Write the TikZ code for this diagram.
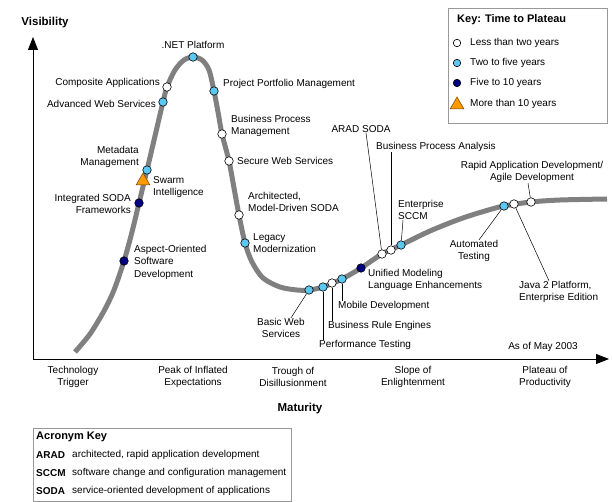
\documentclass[tikz,border=0pt]{standalone}
\usepackage{fontspec}
\setmainfont{Liberation Sans}
\usepackage{xcolor}
\usepackage{tikz}
\definecolor{skyb}{HTML}{5BC8F2}
\definecolor{navyb}{HTML}{000080}
\definecolor{ornge}{HTML}{FF9900}
\definecolor{hypeg}{HTML}{808080}
\tikzstyle{wh} = [circle, draw=black, line width=0.6pt, fill=white, minimum size=8.5pt, inner sep=0pt]
\tikzstyle{bl} = [wh, fill=skyb]
\tikzstyle{nv} = [wh, fill=navyb]
\tikzstyle{tri} = [regular polygon, regular polygon sides=3, draw=ornge!45!black, line width=0.5pt, fill=ornge, minimum size=16pt, inner sep=0pt]
\tikzstyle{ld} = [draw, line width=0.5pt, black, -]
\tikzstyle{ax} = [draw, line width=0.8pt, black, -{Triangle[length=13pt,width=10pt]}]
\tikzstyle{hd} = [font=\bfseries\fontsize{11}{13}\selectfont]
\tikzstyle{acr} = [font=\bfseries\fontsize{10}{12}\selectfont, anchor=west]
\tikzstyle{box} = [draw=black!40, line width=0.7pt, anchor=north west]
\usetikzlibrary{arrows.meta,shapes.geometric}

\begin{document}
\begin{tikzpicture}[x=1pt, y=-1pt, every node/.style={align=center, inner sep=0pt, font=\fontsize{10}{12.5}\selectfont}]
  \useasboundingbox (0,0) rectangle (612,502);

  % Axes
  \coordinate (o)    at (33,359);
  \coordinate (ytip) at (33,37);
  \coordinate (xtip) at (609,359);
  \draw[ax] (o) -- (ytip);
  \draw[ax] (o) -- (xtip);
  \node[hd, font=\bfseries\fontsize{11.5}{13}\selectfont] (vis) at (45,23) {Visibility};
  \node[hd, font=\bfseries\fontsize{11.5}{13}\selectfont] (mat) at (300,409) {Maturity};

  % Phases
  \node (tt) at (73,377)  {Technology\\Trigger};
  \node (pe) at (193,377) {Peak of Inflated\\Expectations};
  \node (td) at (293,377) {Trough of\\Disillusionment};
  \node (se) at (413,377) {Slope of\\Enlightenment};
  \node (pp) at (545,377) {Plateau of\\Productivity};
  \node (asof) at (543,347) {As of May 2003};

  % Curve
  \draw[hypeg, line width=5pt] plot[smooth, tension=0.5] coordinates {
    (75,352) (90,334) (104,311) (114,290) (124,261) (132,232) (139,203)
    (147,170) (155,136) (163,102) (167,87) (175,70) (184,60) (193,57)
    (202,60) (209,70) (214,91) (218,112) (222,134) (229,161) (234,188)
    (239,215) (245,243) (252,262) (263,278) (280,287) (297,290) (309,290)
    (323,287) (342,279) (361,268) (382,254) (401,245) (430,231) (460,219)
    (485,211) (504,206) (531,202) (560,200) (607,199)};

  % Markers
  \node[nv]  (asp)   at (124,261) {};
  \node[nv]  (intg)  at (139,203) {};
  \node[tri] (swarm) at (143,181) {};
  \node[bl]  (meta)  at (147,170) {};
  \node[bl]  (adv)   at (163,102) {};
  \node[wh]  (comp)  at (167,87)  {};
  \node[bl]  (net)   at (193,57)  {};
  \node[bl]  (proj)  at (214,91)  {};
  \node[wh]  (bpm)   at (222,134) {};
  \node[wh]  (sec)   at (229,161) {};
  \node[wh]  (arch)  at (239,215) {};
  \node[bl]  (leg)   at (245,243) {};
  \node[bl]  (basic) at (309,290) {};
  \node[bl]  (perf)  at (323,287) {};
  \node[wh]  (bre)   at (332,283) {};
  \node[bl]  (mob)   at (342,279) {};
  \node[nv]  (uml)   at (361,268) {};
  \node[wh]  (arad)  at (382,254) {};
  \node[wh]  (bpa)   at (391,250) {};
  \node[bl]  (esccm) at (401,245) {};
  \node[bl]  (auto)  at (504,206) {};
  \node[wh]  (jee)   at (514,204) {};
  \node[wh]  (rad)   at (531,202) {};

  % Labels
  \node[anchor=west, align=left]  (aspL)   at (134,262) {Aspect-Oriented\\Software\\Development};
  \node[anchor=east, align=right] (intgL)  at (131,204) {Integrated SODA\\Frameworks};
  \node[anchor=west, align=left]  (swarmL) at (153,187) {Swarm\\Intelligence};
  \node[anchor=east, align=right] (metaL)  at (139,157) {Metadata\\Management};
  \node[anchor=east]              (advL)   at (156,104) {Advanced Web Services};
  \node[anchor=east]              (compL)  at (160,83)  {Composite Applications};
  \node                           (netL)   at (193,45)  {.NET Platform};
  \node[anchor=west]              (projL)  at (223,84)  {Project Portfolio Management};
  \node[anchor=west, align=left]  (bpmL)   at (231,126) {Business Process\\Management};
  \node[anchor=west]              (secL)   at (237,161) {Secure Web Services};
  \node[anchor=west, align=left]  (archL)  at (248,202) {Architected,\\Model-Driven SODA};
  \node[anchor=west, align=left]  (legL)   at (253,243) {Legacy\\Modernization};
  \node                           (basicL) at (281,328) {Basic Web\\Services};
  \node[anchor=west]              (perfL)  at (319,345) {Performance Testing};
  \node[anchor=west]              (breL)   at (328,326) {Business Rule Engines};
  \node[anchor=west]              (mobL)   at (338,306) {Mobile Development};
  \node[anchor=west, align=left]  (umlL)   at (368,280) {Unified Modeling\\Language Enhancements};
  \node                           (aradL)  at (361,129) {ARAD SODA};
  \node[anchor=west]              (bpaL)   at (376,147) {Business Process Analysis};
  \node[anchor=west, align=left]  (esccmL) at (398,210) {Enterprise\\SCCM};
  \node                           (autoL)  at (474,251) {Automated\\Testing};
  \node[anchor=west, align=left]  (jeeL)   at (519,292) {Java 2 Platform,\\Enterprise Edition};
  \node                           (radL)   at (532,172) {Rapid Application Development/\\Agile Development};

  % Leaders
  \draw[ld] (basic) -- ([xshift=10pt]basicL.north);
  \draw[ld] (perf) -- (perf |- perfL.north);
  \draw[ld] (bre) -- (bre |- breL.north);
  \draw[ld] (mob) -- (mob |- mobL.north);
  \draw[ld] (arad) -- ([xshift=5pt]aradL.south);
  \draw[ld] (bpa) -- (bpa |- bpaL.south);
  \draw[ld] (esccm) -- ([xshift=5pt]esccmL.south west);
  \draw[ld] (auto) -- ([xshift=5pt]autoL.north);
  \draw[ld] (jee) -- ([xshift=30pt]jeeL.north west);
  \draw[ld] (rad) -- ([xshift=-4pt]radL.south);

  % Key: time to plateau
  \node[box, minimum width=159pt, minimum height=115pt] (key) at (448,8) {};
  \node[hd, anchor=west] (keyT) at (457,20) {Key: Time to Plateau};
  \node[wh, minimum size=7.5pt] (k1) at (457,43) {};
  \node[bl, minimum size=7.5pt] (k2) at (457,63) {};
  \node[nv, minimum size=7.5pt] (k3) at (457,83) {};
  \node[tri] (k4) at (457,105) {};
  \node[anchor=west] (k1L) at (470,43)  {Less than two years};
  \node[anchor=west] (k2L) at (470,63)  {Two to five years};
  \node[anchor=west] (k3L) at (470,83)  {Five to 10 years};
  \node[anchor=west] (k4L) at (470,104) {More than 10 years};

  % Acronym key
  \node[box, minimum width=258pt, minimum height=73pt] (acrbox) at (33,428) {};
  \node[hd, anchor=west] (acrT) at (36,437) {Acronym Key};
  \node[acr] (a1) at (36,455) {ARAD};
  \node[acr] (a2) at (36,473) {SCCM};
  \node[acr] (a3) at (36,491) {SODA};
  \node[anchor=west] (a1L) at (72,455) {architected, rapid application development};
  \node[anchor=west] (a2L) at (72,473) {software change and configuration management};
  \node[anchor=west] (a3L) at (72,491) {service-oriented development of applications};
\end{tikzpicture}
\end{document}
